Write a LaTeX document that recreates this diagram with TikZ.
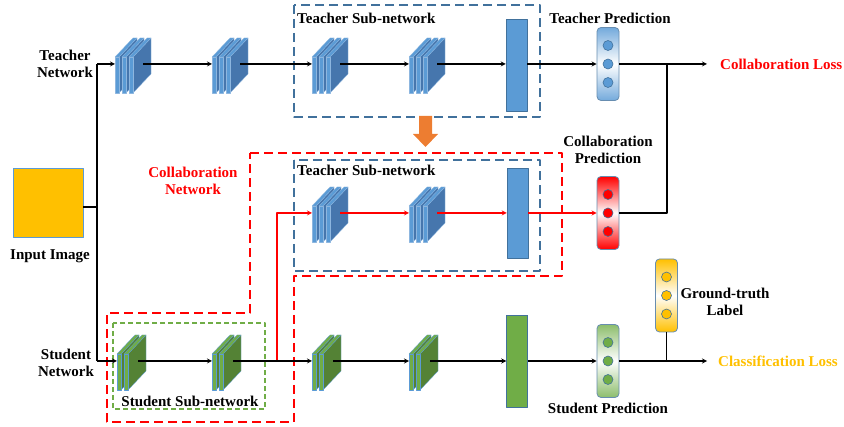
\documentclass[tikz,border=0pt]{standalone}
\usepackage{fontspec}
\setmainfont{Liberation Serif}
\definecolor{tblue}{HTML}{5B9BD5}
\definecolor{tside}{HTML}{4676AD}
\definecolor{tedge}{HTML}{8DB6DF}
\definecolor{bblue}{HTML}{41719C}
\definecolor{sgreen}{HTML}{70AD47}
\definecolor{sside}{HTML}{548235}
\definecolor{gold}{HTML}{FFC000}
\definecolor{orng}{HTML}{ED7D31}
\definecolor{cred}{HTML}{FF0000}
\begin{document}
\begin{tikzpicture}[x=1pt, y=-1pt, line join=round, >=stealth]
\tikzset{every node/.style={font=\fontsize{15}{17.5}\selectfont\bfseries, inner sep=1pt},
  lbl/.style={align=center},
  conn/.style={line width=1.2pt},
  fc/.style={draw=bblue, line width=0.5pt, minimum width=21pt},
  pred/.style={draw=bblue!80, line width=0.8pt, rounded corners=4pt, minimum width=22pt, minimum height=73pt, top color=#1, bottom color=#1, middle color=white},
  dot/.style={circle, draw=bblue, line width=0.6pt, fill=#1, minimum size=10pt, inner sep=0pt},
  tbox/.style={draw=bblue, line width=1.3pt, dash pattern=on 9pt off 5pt},
  rbox/.style={draw=cred, line width=1.4pt, dash pattern=on 9pt off 5pt},
  sbox/.style={draw=sgreen, line width=1.3pt, dash pattern=on 5pt off 3pt},
  pics/convblk/.style n args={4}{code={
    \foreach \k in {1,...,#1}{
      \pgfmathsetmacro\o{7*(\k-1)}
      \filldraw[fill=#3, draw=#4, line width=0.3pt] (\o+4,-7)--(\o+22,-26)--(\o+22,10)--(\o+4,29)--cycle;
      \filldraw[fill=#2, draw=#4, line width=0.3pt] (\o,-7)--(\o+18,-26)--(\o+22,-26)--(\o+4,-7)--cycle;
      \filldraw[fill=#2, draw=#4, line width=0.3pt] (\o,-7) rectangle (\o+4,29);
    }
    \coordinate (-in) at (0,0);
    \coordinate (-out) at ({7*(#1-1)+14},0);
  }}}
\useasboundingbox (0,0) rectangle (844,427);
% input and split
\node[draw=tblue, line width=0.6pt, fill=gold, minimum width=70pt, minimum height=69pt, inner sep=0pt] (img) at (48,203) {};
\node (imglbl) at (50,256) {Input Image};
\node[lbl] (tnet) at (65,64) {Teacher\\Network};
\node[lbl] (snet) at (66,363) {Student\\Network};
\coordinate (jt) at (97,64); \coordinate (js) at (97,361);
\draw[conn] (jt)--(js);
\draw[conn] ([yshift=-4pt]img.east)--([yshift=-4pt]img.east -| jt);
% boxes
\draw[rbox] (250,153)--(562,153)--(562,276)--(294,276)--(294,422)--(107,422)--(107,313)--(250,313)--cycle;
\draw[tbox] (294,5) rectangle (540,117);
\draw[tbox] (294,160) rectangle (540,271);
\draw[sbox] (113,323) rectangle (265,409);
\node[anchor=north west] (tsub) at (296,12) {Teacher Sub-network};
\node[anchor=north west] (csub) at (296,164) {Teacher Sub-network};
\node (ssub) at (190,401) {Student Sub-network};
\node[lbl, text=cred] (cnet) at (193,181) {Collaboration\\Network};
\fill[orng] (419,116)--(432,116)--(432,134)--(438,134)--(425.5,147)--(413,134)--(419,134)--cycle;
% blocks
\foreach \n/\x in {1/115,2/212,3/312,4/409} \pic (t\n) at (\x,64) {convblk={3}{tblue}{tside}{tedge}};
\foreach \n/\x in {1/312,2/409} \pic (c\n) at (\x,213) {convblk={3}{tblue}{tside}{tedge}};
\foreach \n/\x in {1/117,2/212,3/312,4/409} \pic (s\n) at (\x,361) {convblk={2}{sgreen}{sside}{tblue}};
\node[fc, fill=tblue, minimum height=92pt] (tfc) at (516.5,65) {};
\node[fc, fill=tblue, minimum height=90pt] (cfc) at (517.5,213) {};
\node[fc, fill=sgreen, minimum height=92pt] (sfc) at (517,361) {};
% predictions
\node[pred=tblue!85] (tpred) at (608,64) {};
\node[pred=cred] (cpred) at (608,213) {};
\node[pred=sgreen!80] (spred) at (608,361) {};
\node[pred=gold] (gt) at (666.5,295.5) {};
\foreach \i/\d in {1/18.5,2/0,3/-18.5}{
  \node[dot=tblue] (tpred-\i) at ([yshift=\d pt]tpred.center) {};
  \node[dot=cred] (cpred-\i) at ([yshift=\d pt]cpred.center) {};
  \node[dot=sgreen] (spred-\i) at ([yshift=\d pt]spred.center) {};
  \node[dot=gold] (gt-\i) at ([yshift=\d pt]gt.center) {};
}
\node (tplbl) at (610,18) {Teacher Prediction};
\node[lbl] (cplbl) at (608,150) {Collaboration\\Prediction};
\node (splbl) at (608,408) {Student Prediction};
\node[lbl] (gtlbl) at (725,302) {Ground-truth\\Label};
\node[anchor=west, text=cred] (closs) at (719,64) {Collaboration Loss};
\node[anchor=west, text=gold] (sloss) at (717,361) {Classification Loss};
\coordinate (cle) at (707,64); \coordinate (sle) at (707,361);
\coordinate (jc) at (667,64); \coordinate (jr) at (277,361);
% teacher row
\draw[conn,->] (jt)--(t1-in);
\draw[conn,->] (t1-out)--(t2-in);
\draw[conn,->] (t2-out)--(t3-in);
\draw[conn,->] (t3-out)--(t4-in);
\draw[conn,->] (t4-out)--(tfc.west |- t4-out);
\draw[conn,->] (tfc.east |- tpred.west)--(tpred.west);
\draw[conn,->] (tpred.east)--(cle);
\draw[conn] (cpred.east)-|(jc);
% collaboration row
\draw[conn,cred,->] (jr)|-(c1-in);
\draw[conn,cred,->] (c1-out)--(c2-in);
\draw[conn,cred,->] (c2-out)--(cfc.west);
\draw[conn,cred,->] (cfc.east)--(cpred.west);
% student row
\draw[conn,->] (js)--(s1-in);
\draw[conn,->] (s1-out)--(s2-in);
\draw[conn,->] (s2-out)--(s3-in);
\draw[conn,->] (s3-out)--(s4-in);
\draw[conn,->] (s4-out)--(sfc.west);
\draw[conn,->] (sfc.east)--(spred.west);
\draw[conn,->] (spred.east)--(sle);
\draw[conn] (gt.south)--(gt.south |- spred.east);
\end{tikzpicture}
\end{document}
